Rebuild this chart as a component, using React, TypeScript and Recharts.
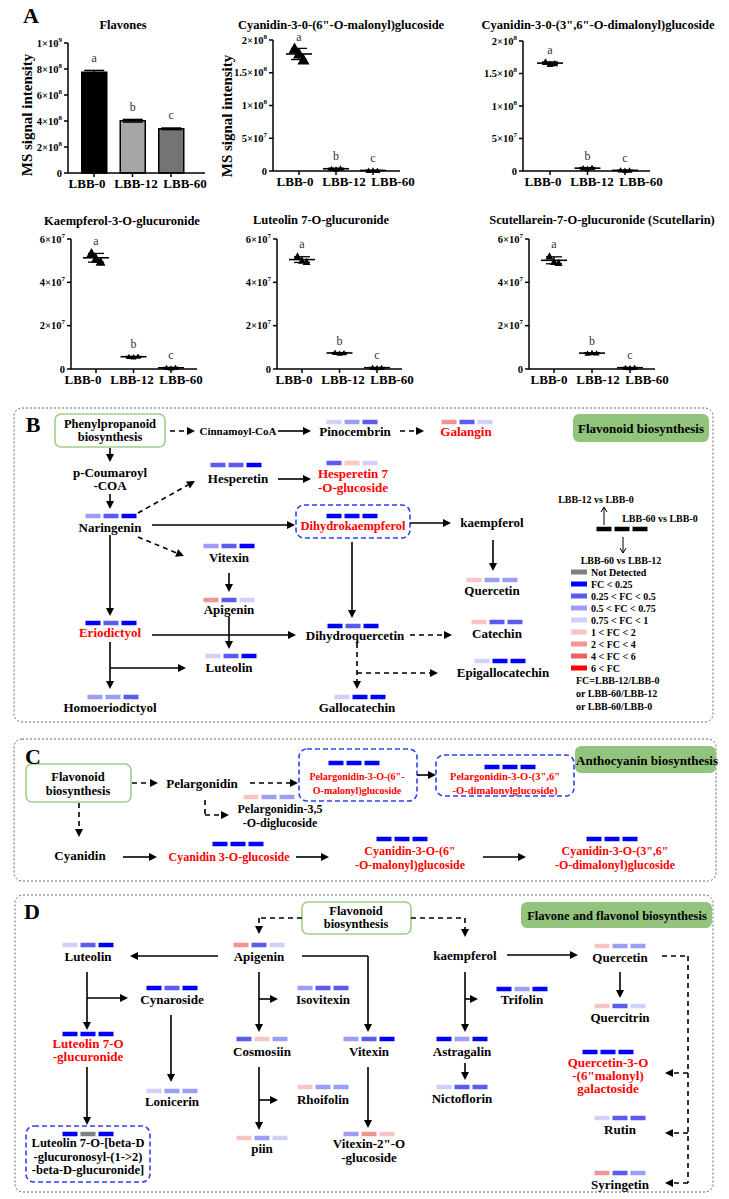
import React from "react";
import {
  BarChart,
  Bar,
  Cell,
  XAxis,
  YAxis,
  ErrorBar,
  LabelList,
  ScatterChart,
  Scatter,
  ReferenceLine,
  ReferenceArea,
} from "recharts";

const FONT = "'Liberation Serif', 'Times New Roman', Times, serif";

// ---------------- panel A data ----------------
const groups = ["LBB-0", "LBB-12", "LBB-60"];
const sigLetters = ["a", "b", "c"];

const flavonesMean = [7.75e8, 4.02e8, 3.4e8];
const flavonesSd = [0.14e8, 0.1e8, 0.06e8];

const cyaMalonyl = [[1.87e8, 1.79e8, 1.7e8], [3.6e6, 2.6e6, 4.2e6], [0.8e6, 1.1e6, 0.6e6]];
const cyaDimalonyl = [[1.68e8, 1.645e8, 1.655e8], [4.6e6, 3.4e6, 5.2e6], [1.2e6, 0.7e6, 1.0e6]];
const kaeGlucuronide = [[5.35e7, 5.1e7, 4.95e7], [5.7e6, 5.5e6, 5.8e6], [0.6e6, 0.4e6, 0.7e6]];
const lutGlucuronide = [[5.2e7, 5.0e7, 4.95e7], [7.6e6, 7.2e6, 7.4e6], [0.7e6, 0.5e6, 0.6e6]];
const scuGlucuronide = [[5.2e7, 4.95e7, 4.9e7], [7.2e6, 7.5e6, 7.3e6], [0.6e6, 0.5e6, 0.7e6]];

const ticks1e9 = [0, 2e8, 4e8, 6e8, 8e8, 1e9];
const ticks1e9Labels = ["0", "2×10^8", "4×10^8", "6×10^8", "8×10^8", "1×10^9"];
const ticks2e8 = [0, 5e7, 1e8, 1.5e8, 2e8];
const ticks2e8Labels = ["0", "5×10^7", "1×10^8", "1.5×10^8", "2×10^8"];
const ticks6e7 = [0, 2e7, 4e7, 6e7];
const ticks6e7Labels = ["0", "2×10^7", "4×10^7", "6×10^7"];

// ---------------- panels B-D data ----------------
const fcColors = ["#808080", "#0000ff", "#5b5bf0", "#9d9df5", "#d0d0fa", "#f8c4c4", "#f29494", "#ee6262", "#ff0000", "#000000"];
const fcLegend = ["Not Detected", "FC < 0.25", "0.25 < FC < 0.5", "0.5 < FC < 0.75", "0.75 < FC < 1", "1 < FC < 2", "2 < FC < 4", "4 < FC < 6", "6 < FC"];

const nodesB = [
  { id: "phe", text: "Phenylpropanoid\nbiosynthesis" },
  { id: "cin", text: "Cinnamoyl-CoA" },
  { id: "pin", text: "Pinocembrin", fc: [4, 3, 2] },
  { id: "gal", text: "Galangin", fc: [6, 2, 4], red: true },
  { id: "flvB", text: "Flavonoid biosynthesis" },
  { id: "pco", text: "p-Coumaroyl\n-COA" },
  { id: "hes", text: "Hesperetin", fc: [2, 2, 1] },
  { id: "hes7", text: "Hesperetin 7\n-O-glucoside", fc: [2, 5, 4], red: true },
  { id: "nar", text: "Naringenin", fc: [3, 2, 1] },
  { id: "dhk", text: "Dihydrokaempferol", fc: [1, 1, 1], red: true },
  { id: "kae", text: "kaempferol" },
  { id: "vitB", text: "Vitexin", fc: [3, 2, 1] },
  { id: "apiB", text: "Apigenin", fc: [6, 2, 4] },
  { id: "queB", text: "Quercetin", fc: [5, 3, 3] },
  { id: "eri", text: "Eriodictyol", fc: [1, 2, 1], red: true },
  { id: "dhq", text: "Dihydroquercetin", fc: [1, 2, 1] },
  { id: "cat", text: "Catechin", fc: [5, 2, 2] },
  { id: "lutB", text: "Luteolin", fc: [4, 2, 1] },
  { id: "epi", text: "Epigallocatechin", fc: [4, 1, 1] },
  { id: "hom", text: "Homoeriodictyol", fc: [3, 3, 2] },
  { id: "glc", text: "Gallocatechin", fc: [4, 1, 1] },
  { id: "lg1", text: "LBB-12 vs LBB-0" },
  { id: "lg2", text: "LBB-60 vs LBB-0" },
  { id: "lgK", text: "", fc: [9, 9, 9] },
  { id: "lg3", text: "LBB-60 vs LBB-12" },
  { id: "lgF", text: "FC=LBB-12/LBB-0\nor LBB-60/LBB-12\nor LBB-60/LBB-0" },
];

const nodesC = [
  { id: "flvC", text: "Flavonoid\nbiosynthesis" },
  { id: "pel", text: "Pelargonidin" },
  { id: "pel6", text: "Pelargonidin-3-O-(6\"-\nO-malonyl)glucoside", fc: [1, 1, 1], red: true },
  { id: "pel36", text: "Pelargonidin-3-O-(3\",6\"\n-O-dimalonylglucoside)", fc: [1, 1, 1], red: true },
  { id: "ant", text: "Anthocyanin biosynthesis" },
  { id: "pel35", text: "Pelargonidin-3,5\n-O-diglucoside", fc: [5, 3, 3] },
  { id: "cya", text: "Cyanidin" },
  { id: "cya3", text: "Cyanidin 3-O-glucoside", fc: [1, 1, 1], red: true },
  { id: "cya6", text: "Cyanidin-3-O-(6\"\n-O-malonyl)glucoside", fc: [1, 1, 1], red: true },
  { id: "cya36", text: "Cyanidin-3-O-(3\",6\"\n-O-dimalonyl)glucoside", fc: [1, 1, 1], red: true },
];

const nodesD = [
  { id: "flvD", text: "Flavonoid\nbiosynthesis" },
  { id: "fnl", text: "Flavone and flavonol biosynthesis" },
  { id: "apiD", text: "Apigenin", fc: [6, 2, 4] },
  { id: "lutD", text: "Luteolin", fc: [4, 2, 1] },
  { id: "cyn", text: "Cynaroside", fc: [1, 2, 1] },
  { id: "iso", text: "Isovitexin", fc: [3, 2, 2] },
  { id: "lut7", text: "Luteolin 7-O\n-glucuronide", fc: [1, 1, 1], red: true },
  { id: "cos", text: "Cosmosiin", fc: [2, 5, 3] },
  { id: "vitD", text: "Vitexin", fc: [3, 2, 1] },
  { id: "kaeD", text: "kaempferol" },
  { id: "tri", text: "Trifolin", fc: [1, 3, 1] },
  { id: "ast", text: "Astragalin", fc: [1, 3, 1] },
  { id: "queD", text: "Quercetin", fc: [5, 3, 3] },
  { id: "qct", text: "Quercitrin", fc: [5, 2, 4] },
  { id: "q3o", text: "Quercetin-3-O\n-(6\"malonyl)\ngalactoside", fc: [1, 1, 1], red: true },
  { id: "lon", text: "Lonicerin", fc: [4, 3, 3] },
  { id: "rho", text: "Rhoifolin", fc: [5, 3, 3] },
  { id: "nic", text: "Nictoflorin", fc: [4, 2, 2] },
  { id: "rut", text: "Rutin", fc: [4, 2, 2] },
  { id: "lutG", text: "Luteolin 7-O-[beta-D\n-glucuronosyl-(1->2)\n-beta-D-glucuronide]", fc: [1, 0, 1] },
  { id: "piin", text: "piin", fc: [5, 3, 4] },
  { id: "vit2", text: "Vitexin-2\"-O\n-glucoside", fc: [3, 6, 5] },
  { id: "syr", text: "Syringetin", fc: [6, 2, 3] },
];

// ---------------- layout ----------------
// c0/c2: first/last category centre, lx: first x-label centre (page px)
const frames = [
  { axisX: 68, top: 43, bottom: 173, right: 205, c0: 94, c2: 171, lx: 87, rs: [3.5, 3.5, 3.5] },
  { axisX: 273, top: 40, bottom: 171, right: 400, c0: 299, c2: 373, lx: 295, rs: [6, 3, 3] },
  { axisX: 523, top: 41, bottom: 171, right: 650, c0: 550, c2: 625, lx: 543, rs: [3.5, 3, 3] },
  { axisX: 71, top: 239, bottom: 369, right: 197, c0: 96, c2: 171, lx: 83, rs: [5, 3, 3] },
  { axisX: 277, top: 239, bottom: 369, right: 402, c0: 302, c2: 377, lx: 294, rs: [4, 3, 3] },
  { axisX: 529, top: 239, bottom: 369, right: 655, c0: 554, c2: 630, lx: 549, rs: [4, 3, 3] },
];

const layout: Record<string, any> = {
  phe: { x: 110, y: 424, fs: 12.5, lh: 13 },
  cin: { x: 238, y: 431, fs: 11 },
  pin: { x: 355, y: 431, bx: 352, by: 422 },
  gal: { x: 466, y: 431, bx: 467, by: 422 },
  flvB: { x: 641, y: 428 },
  pco: { x: 110, y: 472, lh: 13 },
  hes: { x: 238, y: 478, bx: 236, by: 465 },
  hes7: { x: 353, y: 473, lh: 14, bx: 352, by: 463 },
  nar: { x: 110, y: 527, bx: 111, by: 516 },
  dhk: { x: 353, y: 526, fs: 12.5, bx: 352, by: 516 },
  kae: { x: 492, y: 522 },
  vitB: { x: 229, y: 557, bx: 229, by: 546 },
  apiB: { x: 229, y: 609, bx: 229, by: 600 },
  queB: { x: 492, y: 590, bx: 492, by: 580 },
  eri: { x: 110, y: 632, bx: 111, by: 623 },
  dhq: { x: 355, y: 635, bx: 353, by: 626 },
  cat: { x: 497, y: 633, bx: 497, by: 622 },
  lutB: { x: 229, y: 667, bx: 231, by: 656 },
  epi: { x: 503, y: 672, bx: 500, by: 661 },
  hom: { x: 110, y: 707, bx: 113, by: 697 },
  glc: { x: 357, y: 707, bx: 360, by: 697 },
  lg1: { x: 596, y: 499, fs: 10 },
  lg2: { x: 660, y: 518, fs: 10 },
  lgK: { x: 622, y: 529, bx: 622, by: 529 },
  lg3: { x: 621, y: 560, fs: 10 },
  lgF: { x: 576, y: 680, fs: 10, lh: 13, anchor: "start" },

  flvC: { x: 78, y: 777, fs: 12.5, lh: 14 },
  pel: { x: 202, y: 783 },
  pel6: { x: 357, y: 776, fs: 10, lh: 14, bx: 354, by: 763 },
  pel36: { x: 505, y: 776, fs: 10.5, lh: 14, bx: 510, by: 767 },
  ant: { x: 647, y: 760 },
  pel35: { x: 280, y: 809, fs: 12, lh: 14, bx: 269, by: 797 },
  cya: { x: 80, y: 855 },
  cya3: { x: 229, y: 857, fs: 12, bx: 238, by: 844 },
  cya6: { x: 410, y: 851, fs: 12, lh: 14, bx: 402, by: 839 },
  cya36: { x: 615, y: 851, fs: 12, lh: 14, bx: 612, by: 839 },

  flvD: { x: 356, y: 911, fs: 12.5, lh: 13 },
  fnl: { x: 617, y: 916, fs: 12.5 },
  apiD: { x: 259, y: 956, bx: 259, by: 945 },
  lutD: { x: 88, y: 956, bx: 88, by: 945 },
  cyn: { x: 172, y: 999, bx: 172, by: 988 },
  iso: { x: 323, y: 999, bx: 323, by: 988 },
  lut7: { x: 88, y: 1043, lh: 13, bx: 88, by: 1034 },
  cos: { x: 262, y: 1051, bx: 262, by: 1039 },
  vitD: { x: 369, y: 1051, bx: 369, by: 1039 },
  kaeD: { x: 465, y: 955 },
  tri: { x: 522, y: 999, bx: 522, by: 989 },
  ast: { x: 462, y: 1051, bx: 462, by: 1039 },
  queD: { x: 620, y: 957, bx: 620, by: 946 },
  qct: { x: 620, y: 1017, bx: 620, by: 1006 },
  q3o: { x: 608, y: 1062, lh: 13, bx: 608, by: 1052 },
  lon: { x: 172, y: 1101, bx: 172, by: 1091 },
  rho: { x: 323, y: 1099, bx: 323, by: 1087 },
  nic: { x: 462, y: 1098, bx: 462, by: 1087 },
  rut: { x: 620, y: 1129, bx: 620, by: 1118 },
  lutG: { x: 88, y: 1143, fs: 12.5, lh: 13.5, bx: 88, by: 1134 },
  piin: { x: 262, y: 1148, bx: 262, by: 1138 },
  vit2: { x: 369, y: 1143, lh: 14, bx: 369, by: 1134 },
  syr: { x: 620, y: 1184, bx: 620, by: 1173 },
};

// boxes: [x1, y1, x2, y2, kind]
const boxes: [number, number, number, number, string][] = [
  [14, 408, 713, 722, "panel"],
  [14, 739, 716, 881, "panel"],
  [15, 895, 713, 1192, "panel"],
  [55, 414, 165, 447, "greenLine"],
  [26, 764, 131, 802, "greenLine"],
  [302, 902, 411, 934, "greenLine"],
  [573, 414, 709, 442, "greenFill"],
  [575, 746, 716, 773, "greenFill"],
  [521, 902, 712, 928, "greenFill"],
  [296, 505, 410, 538, "blue"],
  [299, 749, 417, 801, "blue"],
  [436, 755, 574, 796, "blue"],
  [26, 1126, 150, 1182, "blue"],
];

const arrows: { pts: number[][]; dash?: boolean; noHead?: boolean; thin?: boolean }[] = [
  { pts: [[170, 431], [195, 431]], dash: true },
  { pts: [[278, 431], [311, 431]] },
  { pts: [[400, 431], [424, 431]], dash: true },
  { pts: [[110, 448], [110, 462]] },
  { pts: [[110, 494], [110, 509]] },
  { pts: [[138, 513], [195, 481]], dash: true },
  { pts: [[278, 479], [311, 479]] },
  { pts: [[152, 525], [295, 525]] },
  { pts: [[410, 523], [451, 523]] },
  { pts: [[138, 537], [184, 556]], dash: true },
  { pts: [[229, 573], [229, 592]] },
  { pts: [[493, 540], [493, 571]] },
  { pts: [[110, 535], [110, 616]] },
  { pts: [[352, 542], [352, 618]] },
  { pts: [[152, 635], [296, 635]] },
  { pts: [[410, 635], [452, 635]], dash: true },
  { pts: [[229, 617], [229, 649]] },
  { pts: [[110, 642], [110, 689]] },
  { pts: [[110, 668], [186, 668]] },
  { pts: [[357, 643], [357, 689]], dash: true },
  { pts: [[357, 673], [438, 673]], dash: true },
  { pts: [[604, 525], [604, 507]], thin: true },
  { pts: [[623, 537], [623, 553]], thin: true },

  { pts: [[132, 783], [158, 783]], dash: true },
  { pts: [[250, 783], [298, 783]], dash: true },
  { pts: [[417, 775], [436, 775]] },
  { pts: [[205, 800], [205, 815], [229, 815]], dash: true },
  { pts: [[79, 803], [79, 837]], dash: true },
  { pts: [[123, 857], [157, 857]] },
  { pts: [[296, 857], [329, 857]] },
  { pts: [[483, 857], [526, 857]] },

  { pts: [[302, 918], [259, 918], [259, 934]], dash: true },
  { pts: [[411, 918], [465, 918], [465, 937]], dash: true },
  { pts: [[218, 956], [130, 956]] },
  { pts: [[87, 972], [87, 1030]] },
  { pts: [[87, 998], [128, 998]] },
  { pts: [[171, 1015], [171, 1082]] },
  { pts: [[87, 1067], [87, 1125]] },
  { pts: [[259, 972], [259, 1032]] },
  { pts: [[259, 999], [278, 999]] },
  { pts: [[259, 1067], [259, 1130]] },
  { pts: [[259, 1100], [278, 1100]] },
  { pts: [[302, 956], [368, 956], [368, 1032]] },
  { pts: [[368, 1067], [368, 1128]] },
  { pts: [[507, 955], [578, 955]] },
  { pts: [[620, 972], [620, 998]] },
  { pts: [[465, 972], [465, 1032]] },
  { pts: [[465, 999], [478, 999]] },
  { pts: [[465, 1063], [465, 1080]] },
  { pts: [[662, 956], [688, 956], [688, 1183]], dash: true, noHead: true },
  { pts: [[688, 1073], [665, 1073]], dash: true },
  { pts: [[688, 1133], [665, 1133]], dash: true },
  { pts: [[688, 1183], [665, 1183]], dash: true },
];

const axisStyle = { stroke: "#000", strokeWidth: 1.5 };
const RIGHT_PAD = 26;

// ---------------- helpers ----------------
function Txt({ x, y, children, size = 13, bold = true, rotate = 0 }: any) {
  return (
    <div
      style={{
        position: "absolute",
        left: x,
        top: y,
        transform: `translate(-50%, -50%) rotate(${rotate}deg)`,
        fontFamily: FONT,
        fontSize: size,
        fontWeight: bold ? 700 : 400,
        whiteSpace: "nowrap",
        lineHeight: 1,
        color: "#000",
      }}
    >
      {children}
    </div>
  );
}

function YTick({ x, y, payload, ticks, labels }: any) {
  const i = ticks.findIndex((t: number) => Math.abs(t - payload.value) < 1);
  const [base, sup] = (labels[i] ?? "").split("^");
  return (
    <text x={x} y={y} textAnchor="end" dominantBaseline="central" fontFamily={FONT} fontWeight="bold" fontSize={10.5} fill="#000">
      {base}
      {sup && (
        <tspan dy="-0.5em" fontSize={7}>
          {sup}
        </tspan>
      )}
    </text>
  );
}

// labels are spread wider than the tick spacing, as in the source figure
function XTick({ y, index, lx }: any) {
  return (
    <text x={lx + index * 49} y={y} dy="0.72em" textAnchor="middle" fontFamily={FONT} fontWeight="bold" fontSize={13} fill="#000">
      {groups[index]}
    </text>
  );
}

function geometry(f: any) {
  const s = (f.c2 - f.c0) / 2;
  const padL = f.c0 - f.axisX - s / 2;
  const padR = f.right - f.axisX - 3 * s - padL;
  const L = f.axisX - 60;
  const T = f.top - 12;
  return { padL, padR, L, T, W: f.right - L + RIGHT_PAD, H: f.bottom - T + 28 };
}

function FlavonesChart() {
  const f = frames[0];
  const g = geometry(f);
  const data = groups.map((grp, i) => ({ group: grp, value: flavonesMean[i], sd: flavonesSd[i], sig: sigLetters[i] }));
  const fills = ["#000000", "#a6a6a6", "#747474"];
  return (
    <div style={{ position: "absolute", left: g.L, top: g.T }}>
      <BarChart width={g.W} height={g.H} data={data} margin={{ top: 12, right: RIGHT_PAD, left: 0, bottom: 0 }}>
        <XAxis dataKey="group" padding={{ left: g.padL, right: g.padR }} height={28} tickSize={4} tickMargin={2} axisLine={axisStyle} tickLine={axisStyle} tick={(p: any) => <XTick {...p} lx={f.lx - g.L} />} interval={0} />
        <YAxis domain={[0, 1e9]} ticks={ticks1e9} width={60} tickSize={4} tickMargin={2} axisLine={axisStyle} tickLine={axisStyle} interval={0} tick={(p: any) => <YTick {...p} ticks={ticks1e9} labels={ticks1e9Labels} />} />
        <Bar dataKey="value" barSize={25} stroke="#000" strokeWidth={1.5} isAnimationActive={false}>
          {data.map((d, i) => (
            <Cell key={d.group} fill={fills[i]} />
          ))}
          <ErrorBar dataKey="sd" width={10} stroke="#000" strokeWidth={1.5} />
          <LabelList
            dataKey="sig"
            content={(p: any) => (
              <text x={p.x + p.width / 2} y={p.y - 10} textAnchor="middle" fontFamily={FONT} fontSize={12} fill="#333">
                {p.value}
              </text>
            )}
          />
        </Bar>
      </BarChart>
    </div>
  );
}

function DotPlot({ reps, frame, ticks, labels }: any) {
  const g = geometry(frame);
  const jit = [-0.12, 0, 0.12];
  const pts = reps.flatMap((vals: number[], gi: number) => vals.map((v, i) => ({ x: gi + 0.5 + jit[i], y: v, r: frame.rs[gi] })));
  const stats = reps.map((vals: number[], gi: number) => {
    const m = vals.reduce((a, b) => a + b, 0) / vals.length;
    const sd = Math.sqrt(vals.reduce((a, b) => a + (b - m) ** 2, 0) / (vals.length - 1));
    return { x: gi + 0.5, y: m, sd };
  });
  const tops = reps.map((vals: number[], gi: number) => ({ x: gi + 0.5, y: Math.max(...vals), sig: sigLetters[gi] }));
  return (
    <div style={{ position: "absolute", left: g.L, top: g.T }}>
      <ScatterChart width={g.W} height={g.H} margin={{ top: 12, right: RIGHT_PAD, left: 0, bottom: 0 }}>
        <XAxis type="number" dataKey="x" domain={[0, 3]} ticks={[0.5, 1.5, 2.5]} padding={{ left: g.padL, right: g.padR }} height={28} tickSize={4} tickMargin={2} axisLine={axisStyle} tickLine={axisStyle} tick={(p: any) => <XTick {...p} lx={frame.lx - g.L} />} interval={0} />
        <YAxis type="number" dataKey="y" domain={[0, ticks[ticks.length - 1]]} ticks={ticks} width={60} tickSize={4} tickMargin={2} axisLine={axisStyle} tickLine={axisStyle} interval={0} tick={(p: any) => <YTick {...p} ticks={ticks} labels={labels} />} />
        <Scatter
          data={stats}
          isAnimationActive={false}
          shape={(p: any) => <line x1={p.cx - 13} x2={p.cx + 13} y1={p.cy} y2={p.cy} stroke="#000" strokeWidth={1.6} />}
        >
          <ErrorBar dataKey="sd" direction="y" width={8} stroke="#000" strokeWidth={1.3} />
        </Scatter>
        <Scatter
          data={pts}
          isAnimationActive={false}
          shape={(p: any) => {
            const r = p.payload.r;
            return <path d={`M${p.cx},${p.cy - r} L${p.cx + r},${p.cy + r * 0.8} L${p.cx - r},${p.cy + r * 0.8} Z`} fill="#000" />;
          }}
        />
        <Scatter
          data={tops}
          isAnimationActive={false}
          shape={(p: any) => (
            <text x={p.cx} y={p.cy - 8} textAnchor="middle" fontFamily={FONT} fontSize={12} fill="#333">
              {p.payload.sig}
            </text>
          )}
        />
      </ScatterChart>
    </div>
  );
}

function boxShape(kind: string) {
  return (p: any) => {
    const common = { x: p.x, y: p.y, width: p.width, height: p.height };
    if (kind === "panel") return <rect {...common} rx={8} fill="none" stroke="#666" strokeWidth={1} strokeDasharray="2 2" />;
    if (kind === "greenLine") return <rect {...common} rx={6} fill="#fff" stroke="#9fcf86" strokeWidth={1.6} />;
    if (kind === "greenFill") return <rect {...common} rx={6} fill="#93c47d" stroke="none" />;
    return <rect {...common} rx={8} fill="none" stroke="#2f3ff5" strokeWidth={1.6} strokeDasharray="5 3" />;
  };
}

function arrowShape(head: boolean, dashed: boolean, thin: boolean) {
  return (p: any) => {
    const { x1, y1, x2, y2 } = p;
    const dx = x2 - x1;
    const dy = y2 - y1;
    const len = Math.hypot(dx, dy) || 1;
    const ux = dx / len;
    const uy = dy / len;
    const hl = thin ? 5 : 8;
    const hw = thin ? 3 : 4;
    const ex = head && !thin ? x2 - ux * hl : x2;
    const ey = head && !thin ? y2 - uy * hl : y2;
    const bx = x2 - ux * hl;
    const by = y2 - uy * hl;
    return (
      <g>
        <line x1={x1} y1={y1} x2={ex} y2={ey} stroke="#000" strokeWidth={thin ? 1 : 1.6} strokeDasharray={dashed ? "5 4" : undefined} />
        {head && !thin && <polygon points={`${x2},${y2} ${bx - uy * hw},${by + ux * hw} ${bx + uy * hw},${by - ux * hw}`} fill="#000" />}
        {head && thin && (
          <polyline points={`${bx - uy * hw},${by + ux * hw} ${x2},${y2} ${bx + uy * hw},${by - ux * hw}`} fill="none" stroke="#000" strokeWidth={1} />
        )}
      </g>
    );
  };
}

function Pathways() {
  const all = [...nodesB, ...nodesC, ...nodesD];
  const labelData = all
    .filter((n) => n.text)
    .map((n) => {
      const l = layout[n.id];
      return { x: l.x, y: l.y, text: n.text, red: !!(n as any).red, fs: l.fs ?? 13, lh: l.lh ?? 14, anchor: l.anchor ?? "middle" };
    });
  const blockData = all
    .filter((n: any) => n.fc)
    .map((n: any) => {
      const l = layout[n.id];
      return { x: l.bx ?? l.x, y: l.by, fc: n.fc };
    });
  const legendData = fcLegend.map((label, i) => ({ x: 571, y: 572 + i * 12, label, color: fcColors[i] }));

  const segs: any[] = [];
  arrows.forEach((a, ai) => {
    for (let i = 0; i < a.pts.length - 1; i++) {
      const last = i === a.pts.length - 2;
      segs.push(
        <ReferenceLine
          key={`a${ai}-${i}`}
          segment={[
            { x: a.pts[i][0], y: a.pts[i][1] },
            { x: a.pts[i + 1][0], y: a.pts[i + 1][1] },
          ]}
          ifOverflow="visible"
          shape={arrowShape(last && !a.noHead, !!a.dash, !!a.thin)}
        />
      );
    }
  });

  return (
    <div style={{ position: "absolute", left: 0, top: 400 }}>
      <ScatterChart width={729} height={799} margin={{ top: 0, right: 0, bottom: 0, left: 0 }}>
        <XAxis type="number" dataKey="x" domain={[0, 729]} hide allowDataOverflow height={0} />
        <YAxis type="number" dataKey="y" domain={[400, 1199]} reversed hide allowDataOverflow width={0} />
        {boxes.map((b, i) => (
          <ReferenceArea key={`b${i}`} x1={b[0]} y1={b[1]} x2={b[2]} y2={b[3]} ifOverflow="visible" shape={boxShape(b[4])} />
        ))}
        {segs}
        <Scatter
          data={blockData}
          isAnimationActive={false}
          shape={(p: any) => {
            const fc: number[] = p.payload.fc;
            const w = 15;
            const gap = 3;
            const h = 4.5;
            const total = fc.length * w + (fc.length - 1) * gap;
            return (
              <g>
                {fc.map((c, i) => (
                  <rect key={i} x={p.cx - total / 2 + i * (w + gap)} y={p.cy - h / 2} width={w} height={h} fill={fcColors[c]} />
                ))}
              </g>
            );
          }}
        />
        <Scatter
          data={labelData}
          isAnimationActive={false}
          shape={(p: any) => {
            const d = p.payload;
            return (
              <g>
                {d.text.split("\n").map((line: string, i: number) => (
                  <text
                    key={i}
                    x={p.cx}
                    y={p.cy + i * d.lh}
                    textAnchor={d.anchor}
                    dominantBaseline="central"
                    fontFamily={FONT}
                    fontWeight="bold"
                    fontSize={d.fs}
                    fill={d.red ? "#ff0000" : "#000"}
                  >
                    {line}
                  </text>
                ))}
              </g>
            );
          }}
        />
        <Scatter
          data={legendData}
          isAnimationActive={false}
          shape={(p: any) => (
            <g>
              <rect x={p.cx} y={p.cy - 2.5} width={16} height={5} fill={p.payload.color} />
              <text x={p.cx + 20} y={p.cy} dominantBaseline="central" fontFamily={FONT} fontWeight="bold" fontSize={10} fill="#000">
                {p.payload.label}
              </text>
            </g>
          )}
        />
      </ScatterChart>
    </div>
  );
}

export default function App() {
  return (
    <div style={{ position: "absolute", left: 0, top: 0, width: 729, height: 1199, background: "#fff", overflow: "hidden" }}>
      <Txt x={31} y={16} size={22}>A</Txt>
      <Txt x={123} y={25} size={12.5}>Flavones</Txt>
      <Txt x={341} y={25} size={12.5}>Cyanidin-3-0-(6"-O-malonyl)glucoside</Txt>
      <Txt x={598} y={25} size={12.5}>Cyanidin-3-0-(3",6"-O-dimalonyl)glucoside</Txt>
      <Txt x={122} y={221} size={12.5}>Kaempferol-3-O-glucuronide</Txt>
      <Txt x={321} y={220} size={12.5}>Luteolin 7-O-glucuronide</Txt>
      <Txt x={602} y={220} size={12.5}>Scutellarein-7-O-glucuronide (Scutellarin)</Txt>
      <Txt x={27} y={115} size={15} rotate={-90}>MS signal intensity</Txt>
      <Txt x={227} y={116} size={15} rotate={-90}>MS signal intensity</Txt>

      <FlavonesChart />
      <DotPlot reps={cyaMalonyl} frame={frames[1]} ticks={ticks2e8} labels={ticks2e8Labels} />
      <DotPlot reps={cyaDimalonyl} frame={frames[2]} ticks={ticks2e8} labels={ticks2e8Labels} />
      <DotPlot reps={kaeGlucuronide} frame={frames[3]} ticks={ticks6e7} labels={ticks6e7Labels} />
      <DotPlot reps={lutGlucuronide} frame={frames[4]} ticks={ticks6e7} labels={ticks6e7Labels} />
      <DotPlot reps={scuGlucuronide} frame={frames[5]} ticks={ticks6e7} labels={ticks6e7Labels} />

      <Pathways />
      <Txt x={33} y={425} size={22}>B</Txt>
      <Txt x={33} y={757} size={22}>C</Txt>
      <Txt x={32} y={912} size={22}>D</Txt>
    </div>
  );
}
